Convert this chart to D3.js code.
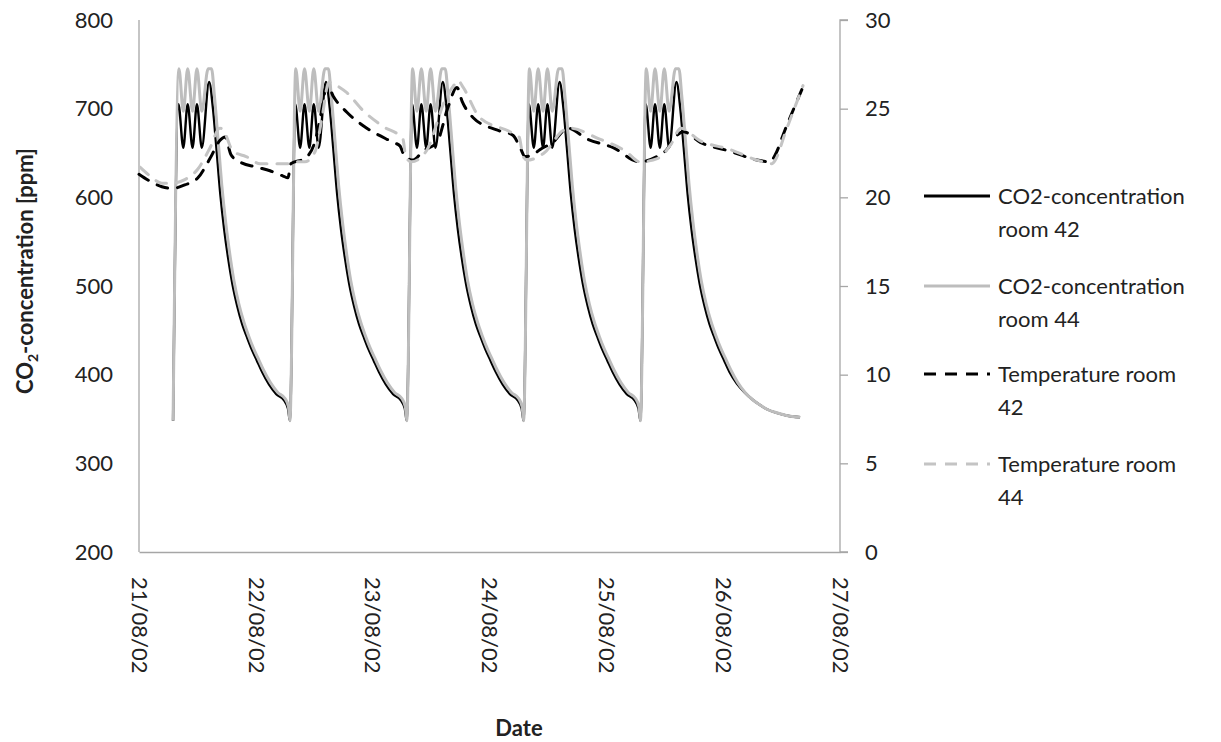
<!DOCTYPE html>
<html>
<head>
<meta charset="utf-8">
<script src="https://cdn.jsdelivr.net/npm/d3@7"></script>
<style>
  body { margin: 0; background: #fff; }
  svg text { font-family: Lato, "Liberation Sans", sans-serif; fill: #222; }
</style>
</head>
<body>
<svg id="chart" width="1221" height="742"></svg>
<script>
// hours counted from 21/08/02 00:00
var dayTicks = ['21/08/02', '22/08/02', '23/08/02', '24/08/02', '25/08/02', '26/08/02', '27/08/02'];
var co2Ticks = [200, 300, 400, 500, 600, 700, 800];
var tempTicks = [0, 5, 10, 15, 20, 25, 30];

var co2Room42 = [
  [7.0,348],[8.1,705],[9.1,656],[10.0,705],[11.0,656],[11.9,705],[12.9,656],[14.4,730],[15.2,700],[15.9,656],[16.7,604],[17.5,564],
  [18.3,532],[19.2,502],[20.2,477],[21.2,457],[22.2,442],[23.2,428],[24.2,416],[25.3,403],[26.7,389],[28.2,378],[29.8,371],[30.6,362],
  [31.0,348],[32.1,705],[33.1,656],[34.0,705],[35.0,656],[35.9,705],[36.9,656],[38.4,730],[39.2,700],[39.9,656],[40.7,604],[41.5,564],
  [42.3,532],[43.2,502],[44.2,477],[45.2,457],[46.2,442],[47.2,428],[48.2,416],[49.3,403],[50.7,389],[52.2,378],[53.8,371],[54.6,362],
  [55.0,348],[56.1,705],[57.1,656],[58.0,705],[59.0,656],[59.9,705],[60.9,656],[62.4,730],[63.2,700],[63.9,656],[64.7,604],[65.5,564],
  [66.3,532],[67.2,502],[68.2,477],[69.2,457],[70.2,442],[71.2,428],[72.2,416],[73.3,403],[74.7,389],[76.2,378],[77.8,371],[78.6,362],
  [79.0,348],[80.1,705],[81.1,656],[82.0,705],[83.0,656],[83.9,705],[84.9,656],[86.4,730],[87.2,700],[87.9,656],[88.7,604],[89.5,564],
  [90.3,532],[91.2,502],[92.2,477],[93.2,457],[94.2,442],[95.2,428],[96.2,416],[97.3,403],[98.7,389],[100.2,378],[101.8,371],[102.6,362],
  [103.0,348],[104.1,705],[105.1,656],[106.0,705],[107.0,656],[107.9,705],[108.9,656],[110.4,730],[111.2,700],[111.9,656],[112.7,604],[113.5,564],
  [114.3,532],[115.2,502],[116.2,477],[117.2,457],[118.2,442],[119.2,428],[120.2,416],[121.3,403],[122.8,390],[124.4,380],[126.0,372],
  [127.5,366],[129.0,361],[131.0,357],[133.0,354],[135.8,352]
];

var co2Room44 = [
  [7.0,348],[8.2,745],[9.1,697],[10.0,745],[11.0,697],[11.9,745],[12.9,697],[14.2,745],[14.9,745],[15.5,714],[16.2,668],[17.0,614],[17.8,572],
  [18.6,538],[19.5,506],[20.5,480],[21.5,460],[22.5,444],[23.5,430],[24.5,418],[25.6,405],[27.0,391],[28.5,380],[30.0,373],[30.7,364],
  [31.0,348],[32.2,745],[33.1,697],[34.0,745],[35.0,697],[35.9,745],[36.9,697],[38.2,745],[38.9,745],[39.5,714],[40.2,668],[41.0,614],[41.8,572],
  [42.6,538],[43.5,506],[44.5,480],[45.5,460],[46.5,444],[47.5,430],[48.5,418],[49.6,405],[51.0,391],[52.5,380],[54.0,373],[54.7,364],
  [55.0,348],[56.2,745],[57.1,697],[58.0,745],[59.0,697],[59.9,745],[60.9,697],[62.2,745],[62.9,745],[63.5,714],[64.2,668],[65.0,614],[65.8,572],
  [66.6,538],[67.5,506],[68.5,480],[69.5,460],[70.5,444],[71.5,430],[72.5,418],[73.6,405],[75.0,391],[76.5,380],[78.0,373],[78.7,364],
  [79.0,348],[80.2,745],[81.1,697],[82.0,745],[83.0,697],[83.9,745],[84.9,697],[86.2,745],[86.9,745],[87.5,714],[88.2,668],[89.0,614],[89.8,572],
  [90.6,538],[91.5,506],[92.5,480],[93.5,460],[94.5,444],[95.5,430],[96.5,418],[97.6,405],[99.0,391],[100.5,380],[102.0,373],[102.7,364],
  [103.0,348],[104.2,745],[105.1,697],[106.0,745],[107.0,697],[107.9,745],[108.9,697],[110.2,745],[110.9,745],[111.5,714],[112.2,668],[113.0,614],
  [113.8,572],[114.6,538],[115.5,506],[116.5,480],[117.5,460],[118.5,444],[119.5,430],[120.5,418],[121.6,405],[123.0,391],[124.5,380],
  [126.0,372],[127.5,366],[129.0,361],[131.0,357],[133.0,354],[135.8,352]
];

var tempRoom42 = [
  [0,21.3],[2.3,20.9],[4.7,20.6],[6.8,20.5],[9.4,20.7],[12.1,21.1],[14.6,22.2],[16.6,23.2],[17.7,23.4],[18.9,22.4],
  [20.7,22.0],[24.2,21.7],[26.9,21.5],[29.6,21.2],[30.6,21.1],[31.2,21.9],[34.1,22.2],[36.2,23.2],[37.6,25.0],[38.6,26.4],
  [39.9,25.7],[42.7,24.8],[46.8,23.9],[52.2,23.1],[53.6,22.9],[54.6,22.3],[56.3,22.1],[58.3,22.6],[61.2,23.1],[63.5,25.1],
  [65.3,26.2],[66.4,25.4],[68.6,24.5],[73.5,23.8],[76.8,23.5],[78.3,22.8],[79.3,22.3],[80.9,22.4],[82.4,22.7],[85.0,23.1],
  [88.1,23.9],[92.0,23.3],[97.4,22.8],[102.9,22.0],[106.4,22.3],[108.1,22.6],[110.5,23.5],[111.8,23.7],[115.3,23.1],
  [121.4,22.6],[127.0,22.1],[129.6,22.0],[130.7,22.4],[132.7,23.8],[136.2,26.1]
];

var tempRoom44 = [
  [0.2,21.7],[2.3,21.2],[4.7,20.8],[6.8,20.8],[9.4,21.0],[12.1,21.6],[14.6,22.8],[16.6,23.9],[17.3,23.8],[19.3,22.6],
  [22.0,22.3],[24.9,21.9],[27.9,21.9],[30.6,21.9],[31.2,22.0],[34.1,22.0],[36.2,22.6],[37.6,24.5],[39.0,26.5],[39.9,26.4],
  [42.7,25.9],[46.0,24.9],[50.1,24.0],[54.2,23.3],[54.8,22.3],[55.9,22.0],[59.0,22.6],[62.9,25.5],[64.9,26.4],[65.5,26.6],
  [66.6,26.2],[70.0,24.5],[76.2,23.7],[78.1,23.4],[78.9,22.3],[79.7,22.1],[83.2,22.5],[87.3,23.8],[88.5,23.9],[94.5,23.3],
  [100.0,22.6],[102.9,22.0],[106.6,22.2],[109.3,23.0],[111.3,23.9],[115.2,23.2],[121.4,22.7],[127.0,22.1],[130.0,21.9],
  [130.7,22.1],[132.7,23.6],[136.4,26.3]
];

var legendNames = [['CO2-concentration', 'room 42'], ['CO2-concentration', 'room 44'], ['Temperature room', '42'], ['Temperature room', '44']];

var svg = d3.select('#chart'),
    plotLeft = 139, plotRight = 840, plotTop = 20, plotBottom = 552,
    t0 = new Date(2002, 7, 21);

function toDate(h) { return new Date(t0.getTime() + h * 3600000); }

var x = d3.scaleTime().domain([t0, new Date(2002, 7, 27)]).range([plotLeft, plotRight]);
var yL = d3.scaleLinear().domain([200, 800]).range([plotBottom, plotTop]);
var yR = d3.scaleLinear().domain([0, 30]).range([plotBottom, plotTop]);

// axes
var axisColor = '#a6a6a6';
var gl = svg.append('g').attr('transform', 'translate(' + plotLeft + ',0)')
  .call(d3.axisLeft(yL).tickValues(co2Ticks).tickSize(0).tickPadding(26));
var gr = svg.append('g').attr('transform', 'translate(' + plotRight + ',0)')
  .call(d3.axisRight(yR).tickValues(tempTicks).tickSize(8).tickPadding(17));
var gb = svg.append('g').attr('transform', 'translate(0,' + plotBottom + ')')
  .call(d3.axisBottom(x).tickValues(dayTicks.map(function(d, i) { return d3.timeDay.offset(t0, i); }))
    .tickSize(0).tickFormat(function(d, i) { return dayTicks[i]; }));

[gl, gr, gb].forEach(function(g) {
  g.selectAll('.domain').attr('stroke', axisColor).attr('stroke-width', 1.3);
  g.selectAll('.tick line').attr('stroke', axisColor).attr('stroke-width', 1.3);
  g.selectAll('text').style('font-size', '22px').attr('fill', '#222');
});
gr.select('.domain').attr('d', 'M8,' + plotTop + 'H0V' + plotBottom + 'H8');
gl.select('.domain').attr('d', 'M0,' + plotTop + 'V' + plotBottom);

gb.selectAll('.tick text')
  .attr('transform', 'rotate(90)')
  .attr('text-anchor', 'start')
  .attr('dy', '0.35em')
  .attr('x', 25)
  .attr('y', 0);

// lines
function line(yScale) {
  return d3.line()
    .x(function(d) { return x(toDate(d[0])); })
    .y(function(d) { return yScale(d[1]); })
    .curve(d3.curveMonotoneX);
}

var series = [
  {data: co2Room42, y: yL, color: '#000', dash: null, width: 2.4},
  {data: co2Room44, y: yL, color: '#bdbdbd', dash: null, width: 3},
  {data: tempRoom42, y: yR, color: '#000', dash: '11,10', width: 3},
  {data: tempRoom44, y: yR, color: '#c4c4c4', dash: '11,10', width: 3}
];

svg.append('g').selectAll('path').data(series).enter().append('path')
  .attr('d', function(s) { return line(s.y)(s.data); })
  .attr('fill', 'none')
  .attr('stroke', function(s) { return s.color; })
  .attr('stroke-width', function(s) { return s.width; })
  .attr('stroke-dasharray', function(s) { return s.dash; })
  .attr('stroke-linecap', function(s) { return s.dash ? 'round' : 'butt'; })
  .attr('stroke-linejoin', 'round');

// axis titles
var yt = svg.append('text')
  .attr('transform', 'translate(25,271) rotate(-90)')
  .attr('text-anchor', 'middle')
  .attr('dy', '0.35em')
  .style('font-size', '22px').style('font-weight', 'bold');
yt.append('tspan').text('CO');
yt.append('tspan').text('2').style('font-size', '14px').attr('dy', '5');
yt.append('tspan').text('-concentration [ppm]').attr('dy', '-5');

svg.append('text')
  .attr('x', 519).attr('y', 736)
  .attr('text-anchor', 'middle')
  .style('font-size', '22px').style('font-weight', 'bold')
  .text('Date');

// legend
var legendY = [196, 286, 374, 464];
var lg = svg.append('g').selectAll('g').data(series).enter().append('g')
  .attr('transform', function(d, i) { return 'translate(0,' + legendY[i] + ')'; });

lg.append('line')
  .attr('x1', 924).attr('x2', 990)
  .attr('stroke', function(s) { return s.color; })
  .attr('stroke-width', 3)
  .attr('stroke-dasharray', function(s) { return s.dash ? '12,9' : null; });

lg.append('text')
  .attr('x', 998)
  .style('font-size', '22px')
  .each(function(d, i) {
    var t = d3.select(this);
    legendNames[i].forEach(function(name, k) {
      t.append('tspan').attr('x', 998).attr('y', k * 33).attr('dy', '0.35em').text(name);
    });
  });
</script>
</body>
</html>
